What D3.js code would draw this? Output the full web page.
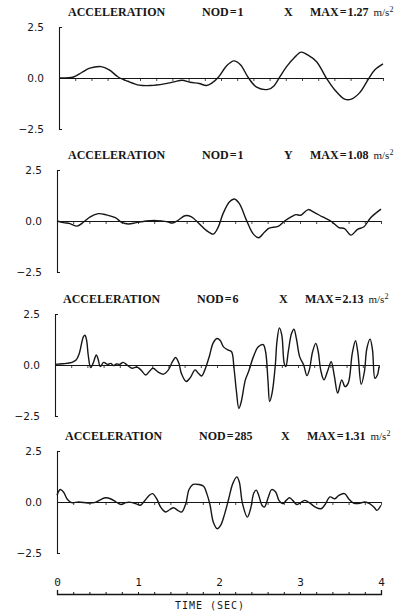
<!DOCTYPE html>
<html lang="en">
  <head>
    <meta charset="utf-8">
    <style type="text/css">
      body {margin: 0; background-color: #fff;}
      svg {display: block;}
    </style>
  </head>
  <body>
    <svg id="chart" width="417" height="614"></svg>
    <script src="https://d3js.org/d3.v7.min.js"></script>
    <script type="text/javascript">
        // Acceleration records: [time (s), acceleration (m/s2)]
        var nod1X = [[0,0],[0.18,0.05],[0.28,0.27],[0.38,0.48],[0.52,0.56],[0.62,0.4],[0.73,0.05],
          [0.85,-0.16],[0.99,-0.35],[1.13,-0.37],[1.3,-0.29],[1.42,-0.19],[1.52,-0.11],[1.62,-0.21],
          [1.73,-0.27],[1.82,-0.37],[1.89,-0.24],[1.97,0.05],[2.07,0.6],[2.16,0.84],[2.24,0.65],
          [2.34,0],[2.44,-0.45],[2.58,-0.56],[2.65,-0.4],[2.73,0.08],[2.81,0.56],[2.91,1.02],
          [2.99,1.27],[3.07,1.13],[3.18,0.8],[3.3,0],[3.4,-0.56],[3.52,-1.02],[3.6,-1.05],
          [3.71,-0.73],[3.82,-0.05],[3.9,0.4],[4,0.69]];

        var nod1Y = [[0,0],[0.08,-0.08],[0.16,-0.13],[0.25,-0.25],[0.33,-0.05],[0.41,0.2],[0.51,0.36],
          [0.61,0.3],[0.72,0.16],[0.8,-0.07],[0.88,-0.15],[0.98,-0.08],[1.1,0],[1.23,0.02],[1.35,-0.03],
          [1.43,-0.1],[1.5,0.05],[1.58,0.26],[1.66,0.2],[1.74,-0.07],[1.84,-0.45],[1.93,-0.64],
          [1.99,-0.3],[2.05,0.36],[2.13,0.94],[2.19,1.08],[2.25,0.86],[2.34,0.03],[2.42,-0.62],
          [2.49,-0.82],[2.56,-0.55],[2.62,-0.35],[2.73,-0.26],[2.81,0],[2.89,0.2],[2.95,0.31],
          [3.01,0.28],[3.1,0.56],[3.18,0.41],[3.28,0.2],[3.38,0],[3.48,-0.32],[3.55,-0.37],
          [3.63,-0.69],[3.71,-0.41],[3.79,-0.28],[3.87,0.15],[4,0.58]];

        var nod6X = [[0,0.03],[0.1,0.06],[0.21,0.13],[0.26,0.24],[0.3,0.57],[0.35,1.38],[0.37,1.46],
          [0.39,1.22],[0.41,0.49],[0.44,-0.13],[0.47,0.08],[0.51,0.49],[0.53,0.32],[0.56,-0.08],
          [0.6,0.13],[0.65,0.03],[0.69,0.08],[0.72,-0.03],[0.76,0.05],[0.8,0.03],[0.84,0.13],
          [0.89,0],[0.95,-0.16],[1.01,-0.1],[1.06,-0.24],[1.12,-0.49],[1.17,-0.29],[1.21,-0.16],
          [1.28,-0.36],[1.34,-0.45],[1.4,-0.24],[1.45,0.16],[1.49,0.37],[1.53,0.08],[1.56,-0.41],
          [1.62,-0.81],[1.67,-0.62],[1.73,-0.24],[1.77,-0.41],[1.81,-0.54],[1.85,-0.24],[1.91,0.49],
          [1.95,1.06],[2.0,1.3],[2.04,1.2],[2.08,0.89],[2.14,0.73],[2.18,0.65],[2.21,-0.16],
          [2.24,-1.3],[2.27,-2.13],[2.3,-1.79],[2.35,-0.73],[2.39,-0.32],[2.45,0.41],[2.51,0.89],
          [2.57,1.0],[2.6,0.65],[2.63,-0.81],[2.65,-1.79],[2.68,-1.38],[2.72,0],[2.74,1.14],
          [2.77,1.82],[2.8,1.46],[2.83,0.08],[2.85,-0.08],[2.88,0.65],[2.92,1.54],[2.95,1.75],
          [2.98,1.3],[3.02,0.41],[3.07,0],[3.11,-0.52],[3.14,-0.24],[3.18,0.65],[3.22,1.06],
          [3.25,0.65],[3.28,-0.24],[3.32,-0.73],[3.37,-0.24],[3.41,0.16],[3.45,-0.57],[3.49,-1.38],
          [3.54,-0.73],[3.58,-1.06],[3.62,-0.89],[3.67,0.57],[3.71,1.19],[3.74,0.57],[3.78,-0.94],
          [3.82,-0.32],[3.85,0.81],[3.89,1.27],[3.92,0.73],[3.95,-0.65],[3.98,-0.49],[4,-0.08]];

        var nod285X = [[0,0.33],[0.04,0.61],[0.08,0.49],[0.13,0.12],[0.18,-0.03],[0.27,0],[0.38,-0.05],
          [0.46,-0.03],[0.54,0.12],[0.6,0.21],[0.66,0.16],[0.73,0],[0.79,-0.12],[0.85,-0.03],
          [0.91,-0.02],[0.97,-0.08],[1.03,-0.16],[1.07,0],[1.14,0.33],[1.18,0.41],[1.23,0.16],
          [1.28,-0.25],[1.34,-0.49],[1.39,-0.38],[1.44,-0.28],[1.49,-0.41],[1.54,-0.49],[1.59,-0.08],
          [1.63,0.61],[1.68,0.86],[1.75,0.86],[1.81,0.77],[1.85,0.41],[1.89,-0.16],[1.93,-0.99],
          [1.98,-1.31],[2.02,-1.15],[2.07,-0.58],[2.12,0.16],[2.17,0.9],[2.22,1.23],[2.25,0.99],
          [2.29,-0.08],[2.35,-0.74],[2.39,-0.33],[2.43,0.44],[2.46,0.58],[2.49,0.33],[2.53,-0.16],
          [2.56,-0.25],[2.61,0.25],[2.65,0.61],[2.7,0.49],[2.74,0.08],[2.79,-0.08],[2.83,0.08],
          [2.87,0.21],[2.91,0.08],[2.96,-0.12],[3.02,0],[3.06,0.08],[3.13,-0.08],[3.19,-0.25],
          [3.26,-0.33],[3.31,-0.12],[3.37,0.25],[3.43,0.16],[3.48,0.33],[3.55,0.41],[3.6,0.16],
          [3.66,-0.05],[3.72,-0.08],[3.8,0],[3.86,-0.08],[3.92,-0.28],[3.95,-0.41],[4,-0.16]];

        var series = [nod1X, nod1Y, nod6X, nod285X];
        var nodes = ["1", "1", "6", "285"];
        var directions = ["X", "Y", "X", "X"];
        var maxValues = ["1.27", "1.08", "2.13", "1.31"];
        var yTicks = [2.5, 0, -2.5];
        var timeTicks = [0, 1, 2, 3, 4];

        // layout of the four stacked panels
        var zeroY = [78, 221, 365, 502];
        var axisShift = [2, 0, -2, 0];
        var titleShift = [0, 0, -5, -3];
        var halfH = 51;

        var svg = d3.select("#chart");
        var sans = "DejaVu Sans, sans-serif";
        var serif = "Liberation Serif, Times New Roman, serif";
        var ink = "#161616";

        var xBase = d3.scaleLinear().domain([0, 4]).range([57, 381]);
        var minorTicks = d3.range(0, 21).map(function(i){ return i * 0.2; });

        series.forEach(function(data, i) {
          var x = xBase.copy().range([57 + axisShift[i], 381 + axisShift[i]]);
          var y = d3.scaleLinear().domain([-2.5, 2.5]).range([zeroY[i] + halfH, zeroY[i] - halfH]);
          var g = svg.append("g");

          // title
          var t = g.append("text")
            .attr("y", zeroY[i] - 62)
            .attr("font-family", serif)
            .attr("font-weight", "bold")
            .attr("font-size", 12)
            .attr("fill", ink);
          t.append("tspan").attr("x", 68 + titleShift[i]).text("ACCELERATION");
          t.append("tspan").attr("x", 202 + titleShift[i]).text("NOD\u200a=\u200a" + nodes[i]);
          t.append("tspan").attr("x", 284 + titleShift[i]).text(directions[i]);
          t.append("tspan").attr("x", 310 + titleShift[i]).text("MAX\u200a=\u200a" + maxValues[i]);
          t.append("tspan").attr("dx", 5).attr("font-weight", "normal").attr("font-size", 11).text("m/s");
          t.append("tspan").attr("font-weight", "normal").attr("font-size", 8).attr("dy", -4).text("2");

          // y bracket
          g.append("g")
            .attr("transform", "translate(" + x(0) + ",0)")
            .call(d3.axisRight(y).tickValues([]).tickSizeOuter(3))
            .call(function(a){ a.select(".domain").attr("stroke", ink).attr("stroke-width", 1.1); });

          g.selectAll(".ylab")
            .data(yTicks)
            .join("text")
            .attr("class", "ylab")
            .attr("x", x(0) - 15)
            .attr("y", function(d){ return y(d) + 4; })
            .attr("text-anchor", "end")
            .attr("font-family", sans)
            .attr("font-size", 10.5)
            .attr("fill", ink)
            .text(function(d){ return d3.format(".1f")(d); });

          // zero line with small ticks
          g.append("g")
            .attr("transform", "translate(0," + y(0) + ")")
            .call(d3.axisBottom(x).tickValues(minorTicks).tickSize(3).tickSizeOuter(0).tickFormat(""))
            .call(function(a){
              a.select(".domain").attr("stroke", ink).attr("stroke-width", 1.1);
              a.selectAll(".tick line").attr("stroke", ink).attr("stroke-width", 0.8);
            });

          // record
          var line = d3.line()
            .x(function(d){ return x(d[0]); })
            .y(function(d){ return y(d[1]); })
            .curve(d3.curveCatmullRom.alpha(0.5));

          g.append("path")
            .datum(data)
            .attr("d", line)
            .attr("fill", "none")
            .attr("stroke", ink)
            .attr("stroke-width", 1.4)
            .attr("stroke-linejoin", "round");
        });

        // time axis
        var tAxis = svg.append("g")
          .attr("transform", "translate(0,594)")
          .call(d3.axisTop(xBase).tickValues(minorTicks).tickSize(2).tickSizeOuter(4).tickPadding(6)
            .tickFormat(function(d){ return timeTicks.indexOf(Math.round(d * 10) / 10) >= 0 ? d3.format("d")(d) : ""; }));
        tAxis.select(".domain").attr("stroke", ink).attr("stroke-width", 1.3);
        tAxis.selectAll(".tick line").attr("stroke", ink);
        tAxis.selectAll(".tick text")
          .attr("font-family", "DejaVu Sans Mono, monospace")
          .attr("font-size", 11)
          .attr("fill", ink);

        svg.append("text")
          .attr("x", 210)
          .attr("y", 609)
          .attr("text-anchor", "middle")
          .attr("font-family", "DejaVu Sans Mono, monospace")
          .attr("font-size", 10)
          .attr("letter-spacing", 1)
          .attr("fill", ink)
          .text("TIME (SEC)");
    </script>
  </body>
</html>
